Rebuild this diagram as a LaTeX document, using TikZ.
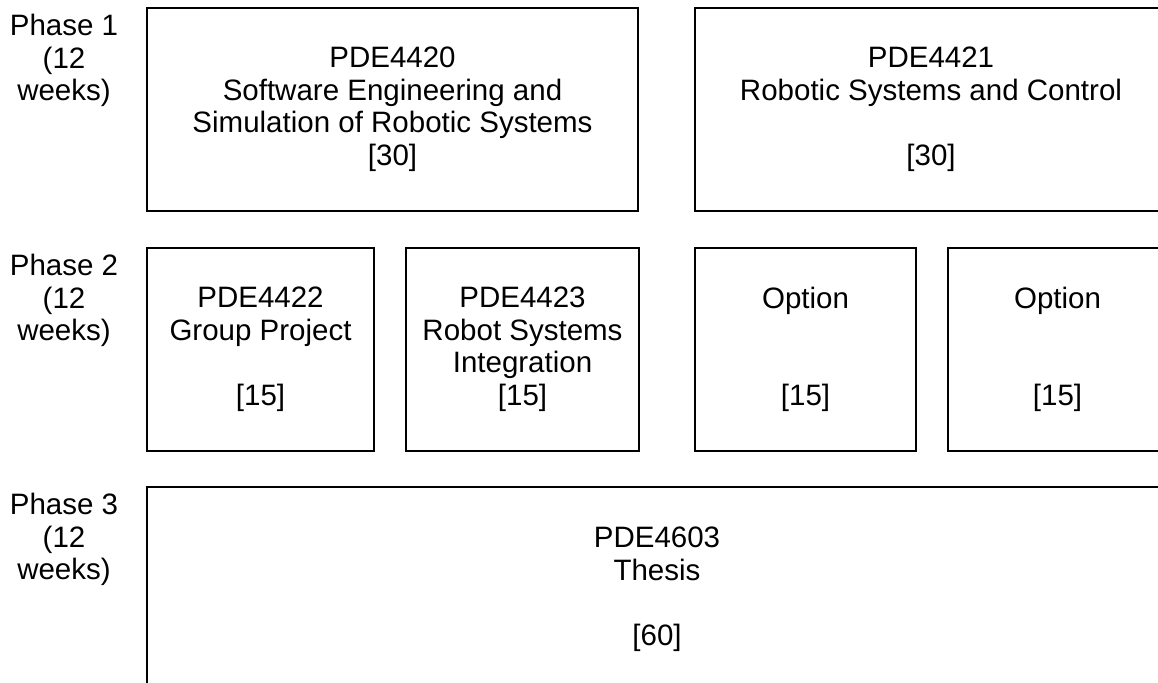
\documentclass[tikz,border=0pt]{standalone}
\usepackage{fontspec}
\setmainfont{Liberation Sans}
\usepackage{tikz}
\newcommand{\modfont}{\fontsize{29.5}{32.5}\selectfont}

\begin{document}
\begin{tikzpicture}[x=1pt,y=-1pt,
  modbox/.style={draw,line width=2pt,inner sep=0pt,align=center,font=\modfont},
  phaselabel/.style={inner sep=0pt,align=center,font=\modfont,anchor=north}]
  \useasboundingbox (0,0) rectangle (1158,682);
  \clip (0,0) rectangle (1158,682);
  % phase 1
  \node[phaselabel] (ph1) at (64,14) {Phase 1\\(12\\weeks)};
  \node[modbox,minimum width=491pt,minimum height=203pt] (p1se) at (392.5,109.5)
    {PDE4420\\Software Engineering and\\Simulation of Robotic Systems\\{[30]}};
  \node[modbox,minimum width=472pt,minimum height=203pt] (p1rsc) at (931,109.5)
    {PDE4421\\Robotic Systems and Control\\\mbox{}\\{[30]}};
  % phase 2
  \node[phaselabel] (ph2) at (64,254) {Phase 2\\(12\\weeks)};
  \node[modbox,minimum width=227pt,minimum height=203pt] (p2gp) at (260.5,349.5)
    {PDE4422\\Group Project\\\mbox{}\\{[15]}};
  \node[modbox,minimum width=233pt,minimum height=203pt] (p2rsi) at (522.5,349.5)
    {PDE4423\\Robot Systems\\Integration\\{[15]}};
  \node[modbox,minimum width=221pt,minimum height=203pt] (p2opta) at (805.5,349.5)
    {Option\\\mbox{}\\\mbox{}\\{[15]}};
  \node[modbox,minimum width=219pt,minimum height=203pt] (p2optb) at (1057.5,349.5)
    {Option\\\mbox{}\\\mbox{}\\{[15]}};
  % phase 3
  \node[phaselabel] (ph3) at (64,493) {Phase 3\\(12\\weeks)};
  \node[modbox,minimum width=1020pt,minimum height=205pt] (p3thesis) at (657,589.5)
    {PDE4603\\Thesis\\\mbox{}\\{[60]}};
\end{tikzpicture}
\end{document}
